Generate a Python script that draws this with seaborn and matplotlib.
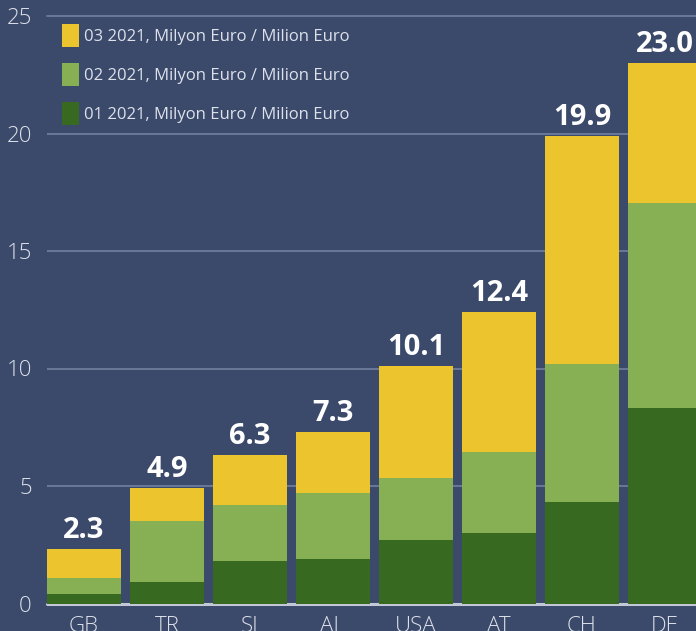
import matplotlib
matplotlib.use("Agg")
import matplotlib.pyplot as plt
import pandas as pd
import seaborn as sns
from matplotlib.patches import Patch

# ---- data ----
categories = ["GB", "TR", "SI", "AL", "USA", "AT", "CH", "DE"]
q1_2021 = [0.4, 0.9, 1.8, 1.9, 2.7, 3.0, 4.3, 8.3]
q2_2021 = [0.7, 2.6, 2.4, 2.8, 2.65, 3.45, 5.9, 8.75]
q3_2021 = [1.2, 1.4, 2.1, 2.6, 4.75, 5.95, 9.7, 5.95]
series_labels = [
    "01 2021, Milyon Euro / Milion Euro",
    "02 2021, Milyon Euro / Milion Euro",
    "03 2021, Milyon Euro / Milion Euro",
]
y_ticks = [0, 5, 10, 15, 20, 25]

# ---- style ----
BG = "#3b4a6b"
YEL = "#ebc42e"
LG = "#87af53"
DG = "#376a20"
GRID = "#6f7c9b"
BASE = "#c3c8d6"
TXT = "#dde1ea"

sns.set_theme(style="white")
plt.rcParams["font.family"] = ["Open Sans", "DejaVu Sans"]

df = pd.DataFrame({"country": categories, "q1": q1_2021, "q2": q2_2021, "q3": q3_2021})
df["s12"] = df["q1"] + df["q2"]
df["total"] = df["s12"] + df["q3"]

W, H = 696, 631
fig = plt.figure(figsize=(W / 100, H / 100), dpi=100, facecolor=BG)
ax = fig.add_axes([47 / W, 27.5 / H, 659.4 / W, 587.5 / H])
ax.set_facecolor(BG)

for col, color in [("total", YEL), ("s12", LG), ("q1", DG)]:
    sns.barplot(data=df, x="country", y=col, color=color, width=0.89,
                saturation=1, linewidth=0, errorbar=None, ax=ax, zorder=3)

ax.set_xlim(-0.445, 7.5)
ax.set_ylim(0, 25)
ax.set_yticks(y_ticks)
ax.set_yticklabels([str(t) for t in y_ticks])
ax.set_axisbelow(True)
ax.yaxis.grid(True, color=GRID, lw=1.3)
ax.xaxis.grid(False)
gl = ax.get_ygridlines()
gl[0].set_color(BASE)
gl[0].set_linewidth(2.2)
gl[0].set_clip_on(False)
gl[-1].set_clip_on(False)

for s in ax.spines.values():
    s.set_visible(False)
ax.tick_params(axis="both", length=0, colors=TXT, labelsize=16)
ax.tick_params(axis="y", pad=11)
ax.tick_params(axis="x", pad=9)
for lab in ax.get_xticklabels() + ax.get_yticklabels():
    lab.set_fontweight("light")
ax.set_xlabel("")
ax.set_ylabel("")

ax.bar_label(ax.containers[0], fmt="{:.1f}", padding=3, color="white",
             fontsize=21, fontweight="bold")

handles = [Patch(facecolor=YEL, edgecolor="none", label=series_labels[2]),
           Patch(facecolor=LG, edgecolor="none", label=series_labels[1]),
           Patch(facecolor=DG, edgecolor="none", label=series_labels[0])]
leg = fig.legend(handles=handles, loc="upper left",
                 bbox_to_anchor=(62 / W, 1 - 24 / H), bbox_transform=fig.transFigure,
                 frameon=False, fontsize=12, handlelength=1.04, handleheight=1.72,
                 handletextpad=0.3, labelspacing=0.98, borderpad=0, borderaxespad=0)
for t in leg.get_texts():
    t.set_color(TXT)

fig.savefig("out.png", dpi=100, facecolor=BG)
